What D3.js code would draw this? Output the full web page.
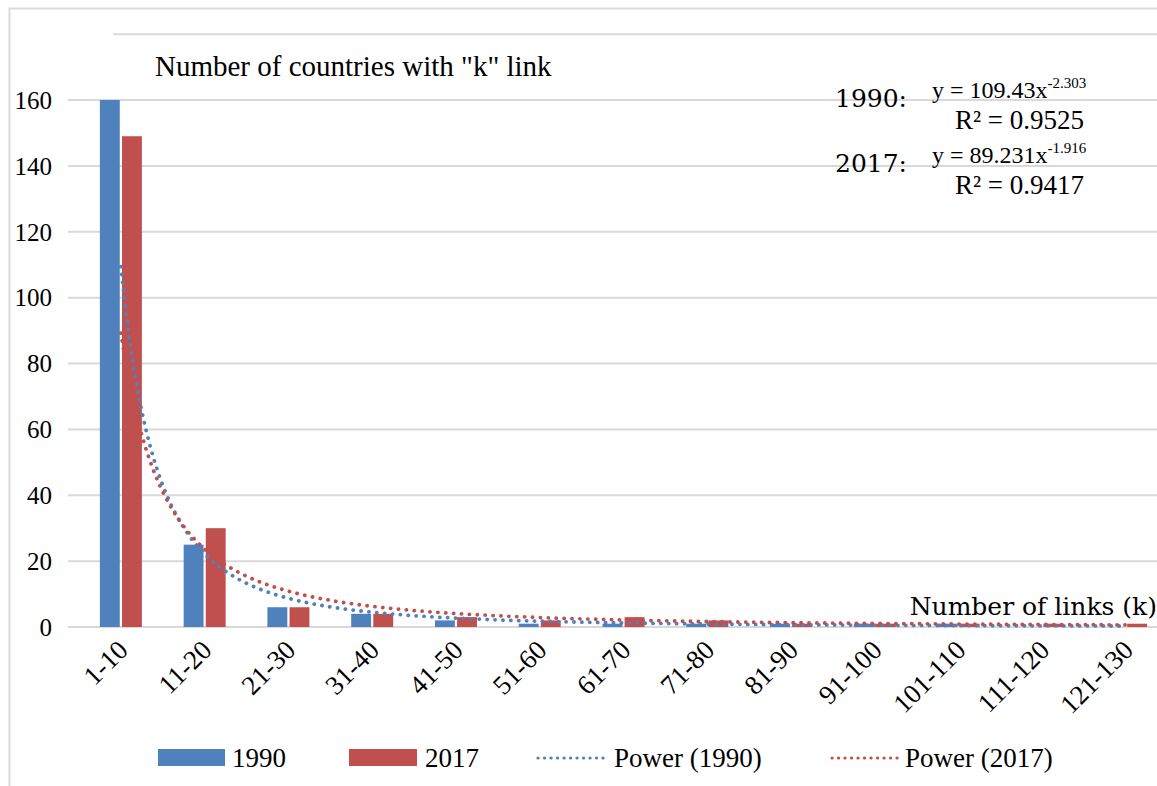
<!DOCTYPE html>
<html><head><meta charset="utf-8">
<script src="https://cdn.jsdelivr.net/npm/d3@7"></script>
<style>
body{margin:0;background:#fff;}
</style></head>
<body><svg id="c" width="1157" height="786" font-family="'Liberation Serif', 'Times New Roman', serif"></svg>
<script>
const categories = ["1-10","11-20","21-30","31-40","41-50","51-60","61-70","71-80","81-90","91-100","101-110","111-120","121-130"];
const values1990 = [160,25,6,4,2,1,1,1,1,1,1,0,0];
const values2017 = [149,30,6,4,3,2,3,2,1,1,1,1,1];
const seriesNames = ["1990","2017"];
const trendNames = ["Power (1990)","Power (2017)"];
const trend1990 = {a:109.43, b:-2.303, r2:"0.9525"};
const trend2017 = {a:89.231, b:-1.916, r2:"0.9417"};
const yTicks = [0,20,40,60,80,100,120,140,160];

const blue = "#4F81BD", red = "#C0504D", grid = "#D9D9D9";
const serif = "'Liberation Serif', 'Times New Roman', serif";
const wide = "'DejaVu Serif', serif";
const svg = d3.select("#c");

// outer border
svg.append("path").attr("d","M9.5,786 V8.5 H1157").attr("fill","none").attr("stroke",grid).attr("stroke-width",2);

const x = d3.scaleBand().domain(categories).range([79,1168]).paddingInner(0).paddingOuter(0);
const y = d3.scaleLinear().domain([0,160]).range([627,100]);
const inner = d3.scaleBand().domain(seriesNames).range([x.bandwidth()/2-21, x.bandwidth()/2+21]).paddingInner(0.1);

// gridlines
svg.append("g").selectAll("line").data(yTicks).join("line")
  .attr("x1",68).attr("x2",1168).attr("y1",d=>y(d)).attr("y2",d=>y(d))
  .attr("stroke",grid).attr("stroke-width",2);
svg.append("line").attr("x1",113).attr("x2",1168).attr("y1",y(180)).attr("y2",y(180)).attr("stroke",grid).attr("stroke-width",2);

// y labels
svg.append("g").selectAll("text").data(yTicks).join("text")
  .attr("x",52).attr("y",d=>y(d)).attr("dy","0.35em").attr("text-anchor","end")
  .attr("font-family",serif).attr("font-size",25).text(d=>d);

// bars
const rows = categories.map((c,i)=>({c, v:[values1990[i],values2017[i]]}));
const g = svg.append("g").selectAll("g").data(rows).join("g").attr("transform",d=>`translate(${x(d.c)},0)`);
g.selectAll("rect").data(d=>d.v.map((v,j)=>({v,s:seriesNames[j]}))).join("rect")
  .attr("x",d=>inner(d.s)).attr("width",inner.bandwidth())
  .attr("y",d=>y(d.v)).attr("height",d=>y(0)-y(d.v))
  .attr("fill",d=>d.s==="1990"?blue:red);

// trend lines
const xc = i => x(categories[0]) + x.bandwidth()/2 + (i-1)*x.step();
function trendPts(t){const p=[];for(let k=1;k<=13.0001;k+=0.05){p.push([xc(k),y(t.a*Math.pow(k,t.b))]);}return p;}
const line = d3.line().curve(d3.curveLinear);
[[trend1990,blue],[trend2017,red]].forEach(([t,c])=>{
  svg.append("path").attr("d",line(trendPts(t))).attr("fill","none").attr("stroke",c)
    .attr("stroke-width",3.8).attr("stroke-linecap","round").attr("stroke-dasharray","0.1 7.8");
});

// x labels
svg.append("g").selectAll("text").data(categories).join("text")
  .attr("transform",d=>`translate(${x(d)+x.bandwidth()/2+2},645) rotate(-45)`)
  .attr("text-anchor","end").attr("dy","0.35em").attr("font-family",serif).attr("font-size",27).text(d=>d);

// titles
svg.append("text").attr("x",155).attr("y",76).attr("font-family",serif).attr("font-size",29).text('Number of countries with "k" link');
svg.append("text").attr("x",1157).attr("y",615).attr("text-anchor","end").attr("font-family",wide).attr("font-size",25).text("Number of links (k)");

// equations
function eq(yy, label, t){
  svg.append("text").attr("x",835).attr("y",yy+9).attr("font-family",wide).attr("font-size",25).text(label);
  const e = svg.append("text").attr("x",932).attr("y",yy).attr("font-family",serif).attr("font-size",24);
  e.append("tspan").text("y = "+t.a+"x");
  e.append("tspan").attr("dy",-10).attr("font-size",15).text(t.b.toFixed(3));
  const r = svg.append("text").attr("x",955).attr("y",yy+31).attr("font-family",serif).attr("font-size",27);
  r.append("tspan").text("R² = "+t.r2);
}
eq(98,"1990:",trend1990);
eq(163,"2017:",trend2017);

// legend
const lg = svg.append("g").attr("font-family",serif);
lg.append("rect").attr("x",158).attr("y",749).attr("width",67).attr("height",17).attr("fill",blue);
lg.append("text").attr("x",232).attr("y",767).attr("font-size",27).text(seriesNames[0]);
lg.append("rect").attr("x",349).attr("y",749).attr("width",68).attr("height",17).attr("fill",red);
lg.append("text").attr("x",425).attr("y",767).attr("font-size",27).text(seriesNames[1]);
lg.append("line").attr("x1",538).attr("x2",608).attr("y1",758).attr("y2",758).attr("stroke",blue)
  .attr("stroke-width",3.2).attr("stroke-linecap","round").attr("stroke-dasharray","0.1 6.4");
lg.append("text").attr("x",614).attr("y",767).attr("font-size",27).text(trendNames[0]);
lg.append("line").attr("x1",832).attr("x2",899).attr("y1",758).attr("y2",758).attr("stroke",red)
  .attr("stroke-width",3.2).attr("stroke-linecap","round").attr("stroke-dasharray","0.1 6.4");
lg.append("text").attr("x",905).attr("y",767).attr("font-size",27).text(trendNames[1]);
</script></body></html>
